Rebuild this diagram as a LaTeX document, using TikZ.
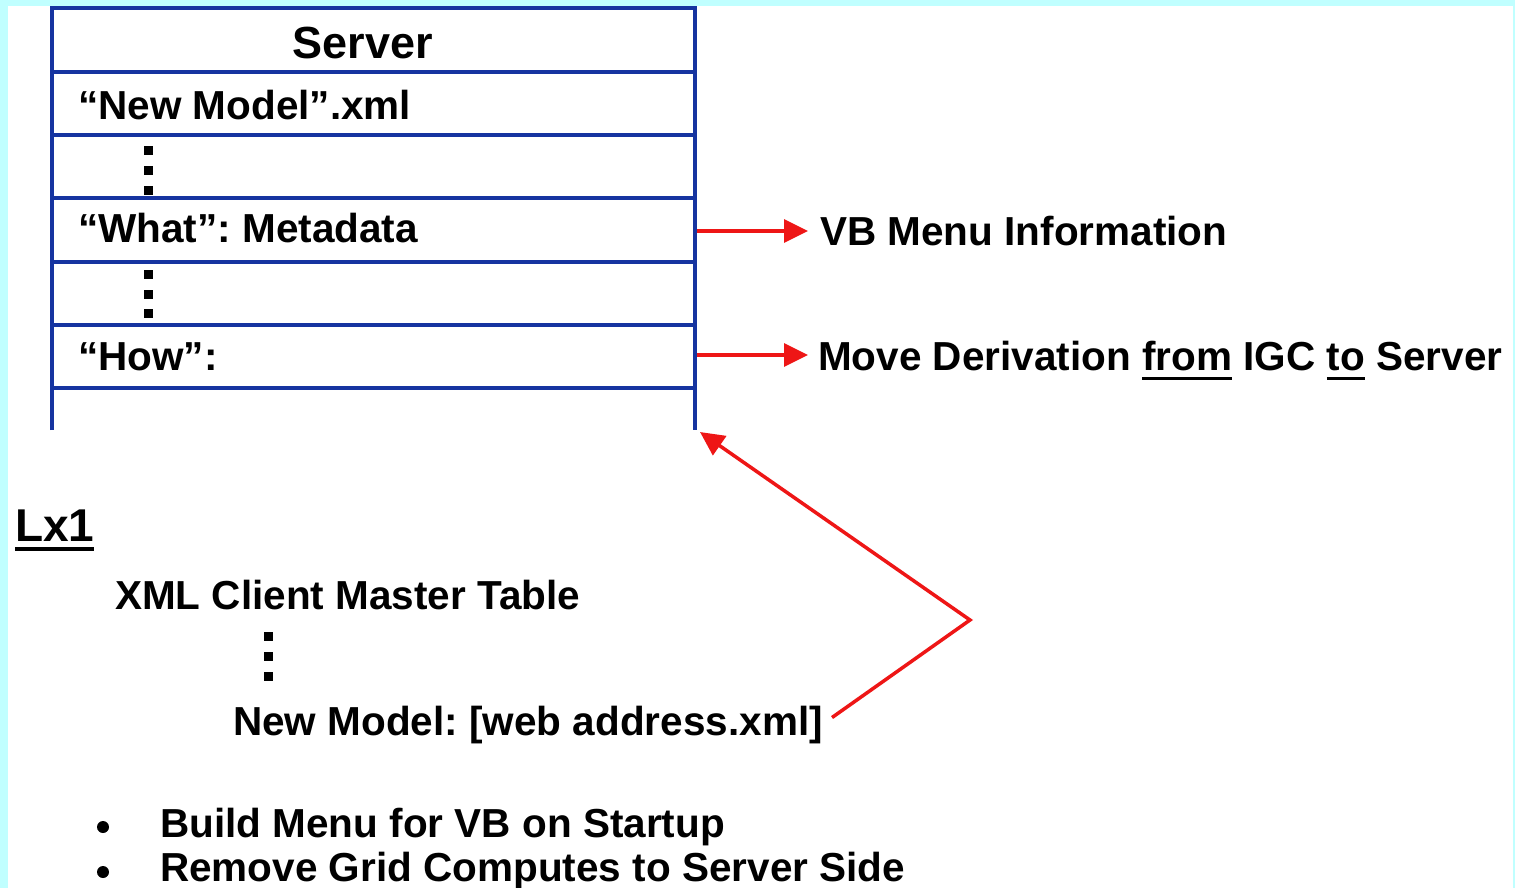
\documentclass[tikz,border=0pt]{standalone}
\usepackage{fontspec}
\setmainfont{Liberation Sans}
\usetikzlibrary{arrows.meta}
\definecolor{framecyan}{RGB}{192,255,255}
\definecolor{tableblue}{RGB}{22,52,160}
\definecolor{linkred}{RGB}{238,22,22}
\frenchspacing
% underlined word: #1 = drop of the rule's lower edge, #2 = rule thickness, #3 = text
\newcommand\ulword[3]{\setbox0\hbox{#3}\rlap{\rule[-#1]{\wd0}{#2}}\box0\relax}

\begin{document}
\begin{tikzpicture}[x=1pt,y=-1pt,
  txt/.style={font=\fontsize{40.5}{48}\selectfont\bfseries, inner sep=0pt, anchor=base west},
  grid/.style={draw=tableblue, line width=3.5pt, line join=miter},
  link/.style={draw=linkred, line width=3.5pt, -{Triangle[length=24pt,width=23pt]}},
  vdot/.style={fill=black},
]
% page frame
\useasboundingbox (0,0) rectangle (1515,888);
\fill[framecyan] (0,0) rectangle (1515,888);
\fill[white] (8,6) rectangle (1513,888);

% server table
\draw[grid] (52,430) -- (52,8) -- (695,8) -- (695,430);
\foreach \y in {72,135,198,262,325,388}
  \draw[grid] (52,\y) -- (695,\y);

\node[txt, anchor=base, font=\fontsize{45}{54}\selectfont\bfseries] (server) at (363,59) {Server};
\node[txt] (newmodel) at (78,120) {“New Model”.xml};
\node[txt] (what) at (78,242) {“What”: Metadata};
\node[txt] (how) at (78,370) {“How”:};

% ellipsis dots in the table rows
\foreach \y in {146,166,186}
  \fill[vdot] (144,\y) rectangle (153,\y+9);
\foreach \y in {270,290,309}
  \fill[vdot] (144,\y) rectangle (153,\y+9);

% right-hand notes
\node[txt] (vbinfo) at (820,245) {VB Menu Information};
\node[txt] (move) at (818,370) {Move Derivation \ulword{10pt}{3pt}{from} IGC \ulword{10pt}{3pt}{to} Server};

\coordinate (whatexit) at (697,231);
\coordinate (howexit) at (697,355);
\draw[link] (whatexit) -- ([xshift=-12pt]vbinfo.west |- whatexit);
\draw[link] (howexit) -- ([xshift=-10pt]move.west |- howexit);

% client side
\node[txt, font=\fontsize{46}{54}\selectfont\bfseries] (lx) at (15,541) {\ulword{10pt}{4pt}{Lx1}};
\node[txt] (xmltable) at (115,609) {XML Client Master Table};
\foreach \y in {632,652,672}
  \fill[vdot] (264,\y) rectangle (273,\y+9);
\node[txt] (newentry) at (233,735) {New Model: [web address.xml]};

% link from the client entry back to the server table
\coordinate (bend) at (970,620);
\coordinate (boxfoot) at (700,432);
\draw[link, line join=miter] ([xshift=9pt,yshift=7pt]newentry.east) -- (bend) -- (boxfoot);

% bullet list
\fill (103,827) circle (6);
\fill (103,872) circle (6);
\node[txt] (build) at (160,837) {Build Menu for VB on Startup};
\node[txt] (remove) at (160,881) {Remove Grid Computes to Server Side};
\end{tikzpicture}
\end{document}
